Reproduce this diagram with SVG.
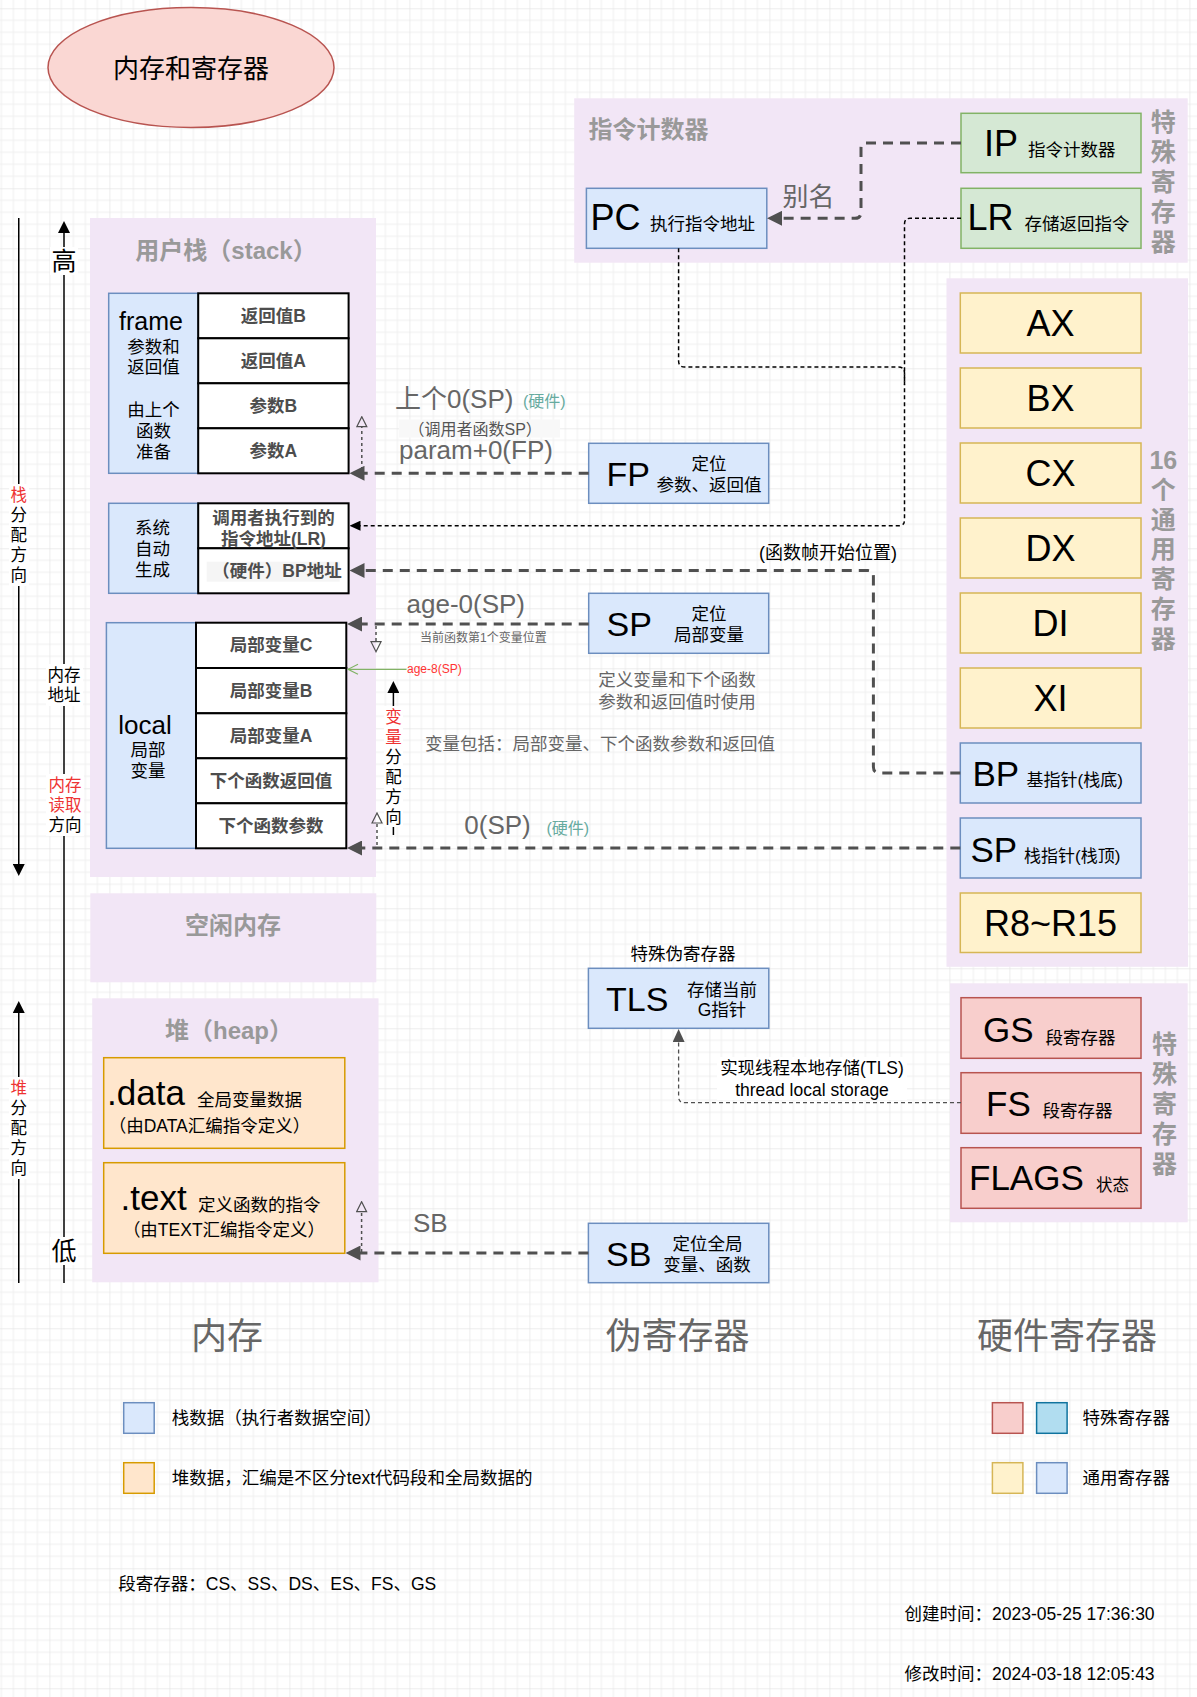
<svg xmlns="http://www.w3.org/2000/svg" width="1197" height="1697" viewBox="0 0 1197 1697">
<defs>
<style>
text{font-family:"Liberation Sans","Noto Sans CJK SC",sans-serif;}
.m{text-anchor:middle;dominant-baseline:central;}
.cb{dominant-baseline:central;}
.panel{fill:#f2e6f6;}
.ttl{font-size:24px;font-weight:bold;fill:#999;}
.vt{font-size:25px;font-weight:bold;fill:#999;text-anchor:middle;dominant-baseline:central;}
.blue{fill:#dae8fc;stroke:#6c8ebf;stroke-width:1.5;}
.green{fill:#d5e8d4;stroke:#82b366;stroke-width:1.5;}
.yellow{fill:#fff2cc;stroke:#d6b656;stroke-width:1.5;}
.orange{fill:#ffe6cc;stroke:#d79b00;stroke-width:1.5;}
.red{fill:#f8cecc;stroke:#b85450;stroke-width:1.5;}
.lblue{fill:#b1ddf0;stroke:#10739e;stroke-width:1.5;}
.cell{fill:#fff;stroke:#000;stroke-width:2;}
.ct{font-size:17.5px;font-weight:bold;fill:#4d4d4d;}
.big{font-size:36px;}
.reg{font-size:36px;text-anchor:middle;dominant-baseline:central;}
.s17{font-size:17.5px;}
.g17{font-size:17.5px;fill:#666;}
.lbl{font-size:26px;fill:#666;}
.hw{font-size:16px;fill:#67ab9f;}
.head{font-size:36px;fill:#666;text-anchor:middle;dominant-baseline:central;}
.ax{font-size:16.5px;text-anchor:middle;dominant-baseline:central;}
.red-t{fill:#e33;}
.thick{fill:none;stroke:#505050;stroke-width:3;stroke-dasharray:10 7;}
.thin{fill:none;stroke:#000;stroke-width:1.5;stroke-dasharray:4 3;}
.thing{fill:none;stroke:#505050;stroke-width:1.3;stroke-dasharray:4 3;}
.small{fill:none;stroke:#505050;stroke-width:1.5;stroke-dasharray:3 3;}
.axis{fill:none;stroke:#000;stroke-width:1.5;}
.wb{fill:#fff;}
</style>
<pattern id="grid" patternUnits="userSpaceOnUse" x="49.4" y="8.3" width="60" height="60">
<path d="M12,0V60M24,0V60M36,0V60M48,0V60M0,12H60M0,24H60M0,36H60M0,48H60" stroke="#efefef" stroke-width="1" fill="none"/>
<path d="M0,0V60M0,0H60" stroke="#dcdcdc" stroke-width="1" fill="none"/>
</pattern>
<marker id="mA" viewBox="0 0 15 15" markerWidth="15" markerHeight="15" refX="3" refY="7.5" orient="auto" markerUnits="userSpaceOnUse"><path d="M0,0L15,7.5L0,15z" fill="#505050"/></marker>
<marker id="mB" viewBox="0 0 11 10" markerWidth="11" markerHeight="10" refX="2" refY="5" orient="auto" markerUnits="userSpaceOnUse"><path d="M0,0L11,5L0,10z" fill="#000"/></marker>
<marker id="mG" viewBox="0 0 13 12" markerWidth="13" markerHeight="12" refX="2" refY="6" orient="auto" markerUnits="userSpaceOnUse"><path d="M0,0L13,6L0,12z" fill="#505050"/></marker>
<marker id="mO" viewBox="-1 -1 12 12" markerWidth="12" markerHeight="12" refX="0" refY="5" orient="auto" markerUnits="userSpaceOnUse"><path d="M0,0L10,5L0,10z" fill="none" stroke="#505050" stroke-width="1.2"/></marker>
<marker id="mV" viewBox="-1 -1 12 12" markerWidth="12" markerHeight="12" refX="10" refY="5" orient="auto" markerUnits="userSpaceOnUse"><path d="M0,0L10,5L0,10" fill="none" stroke="#82b366" stroke-width="1.2"/></marker>
<marker id="mK" viewBox="0 0 12 12" markerWidth="12" markerHeight="12" refX="2" refY="6" orient="auto" markerUnits="userSpaceOnUse"><path d="M0,0L12,6L0,12z" fill="#000"/></marker>
</defs>

<rect width="1197" height="1697" fill="#fff"/>
<rect width="1197" height="1697" fill="url(#grid)"/>

<!-- axes -->
<g id="axes">
<path class="axis" d="M18.75,218V866" marker-end="url(#mK)"/>
<path class="axis" d="M18.75,1283V1011" marker-end="url(#mK)"/>
<path class="axis" d="M64,1283V231" marker-end="url(#mK)"/>
<rect class="wb" x="9" y="484" width="20" height="102"/>
<rect class="wb" x="9" y="1077" width="20" height="102"/>
<rect class="wb" x="50" y="247" width="28" height="28"/>
<rect class="wb" x="46" y="664" width="37" height="42"/>
<rect class="wb" x="46" y="774" width="38" height="62"/>
<rect class="wb" x="50" y="1237" width="28" height="28"/>
<text class="ax"><tspan x="18.75" y="495" class="red-t">栈</tspan><tspan x="18.75" y="515">分</tspan><tspan x="18.75" y="535">配</tspan><tspan x="18.75" y="555">方</tspan><tspan x="18.75" y="575">向</tspan></text>
<text class="ax"><tspan x="18.75" y="1088" class="red-t">堆</tspan><tspan x="18.75" y="1108">分</tspan><tspan x="18.75" y="1128">配</tspan><tspan x="18.75" y="1148">方</tspan><tspan x="18.75" y="1168">向</tspan></text>
<text class="m" x="64" y="261" font-size="25">高</text>
<text class="m" x="64" y="1251" font-size="25">低</text>
<text class="ax"><tspan x="64" y="675">内存</tspan><tspan x="64" y="695">地址</tspan></text>
<text class="ax"><tspan x="65" y="785" class="red-t">内存</tspan><tspan x="65" y="805" class="red-t">读取</tspan><tspan x="65" y="825">方向</tspan></text>
</g>

<g id="n-title">
<ellipse cx="191" cy="67.5" rx="143" ry="60" fill="#fad7d3" stroke="#b85450" stroke-width="1.5"/>
<text class="m" x="191" y="69" font-size="26">内存和寄存器</text>
</g>

<!-- stack panel -->
<g id="n-stack">
<rect class="panel" x="90" y="218" width="286" height="659"/>
<text class="ttl m" x="226" y="250">用户栈（stack）</text>
</g>

<g id="n-frame">
<rect class="blue" x="108.7" y="293.3" width="89.5" height="180"/>
<text class="m" x="151" y="321" font-size="25">frame</text>
<text class="m s17"><tspan x="153.5" y="347">参数和</tspan><tspan x="153.5" y="367">返回值</tspan><tspan x="153.5" y="409.5">由上个</tspan><tspan x="153.5" y="430.5">函数</tspan><tspan x="153.5" y="451.5">准备</tspan></text>
<rect class="cell" x="198.2" y="293.3" width="150.4" height="45"/>
<rect class="cell" x="198.2" y="338.3" width="150.4" height="45"/>
<rect class="cell" x="198.2" y="383.3" width="150.4" height="45"/>
<rect class="cell" x="198.2" y="428.3" width="150.4" height="45"/>
<text class="m ct" x="273.4" y="315.8">返回值B</text>
<text class="m ct" x="273.4" y="360.8">返回值A</text>
<text class="m ct" x="273.4" y="405.8">参数B</text>
<text class="m ct" x="273.4" y="450.8">参数A</text>
</g>

<g id="n-system">
<rect class="blue" x="108.7" y="503.3" width="89.5" height="90"/>
<text class="m s17"><tspan x="152.5" y="528">系统</tspan><tspan x="152.5" y="549">自动</tspan><tspan x="152.5" y="570">生成</tspan></text>
<rect class="cell" x="198.2" y="503.3" width="150.4" height="45"/>
<rect class="cell" x="198.2" y="548.3" width="150.4" height="45"/>
<rect x="206.7" y="561.7" width="133" height="20" fill="#f5f5f5"/>
<text class="m ct"><tspan x="273.4" y="518.3">调用者执行到的</tspan><tspan x="273.4" y="538.8">指令地址(LR)</tspan></text>
<text class="m ct" x="277" y="571">（硬件）BP地址</text>
</g>

<g id="n-local">
<rect class="blue" x="106.4" y="622.7" width="89.6" height="225.6"/>
<text class="m" x="145" y="725" font-size="26">local</text>
<text class="m s17"><tspan x="148" y="750">局部</tspan><tspan x="148" y="770.5">变量</tspan></text>
<rect class="cell" x="196" y="622.7" width="150.3" height="45.3"/>
<rect class="cell" x="196" y="668" width="150.3" height="45.3"/>
<rect class="cell" x="196" y="713.3" width="150.3" height="45"/>
<rect class="cell" x="196" y="758.3" width="150.3" height="45"/>
<rect class="cell" x="196" y="803.3" width="150.3" height="45"/>
<text class="m ct" x="271" y="645.3">局部变量C</text>
<text class="m ct" x="271" y="690.6">局部变量B</text>
<text class="m ct" x="271" y="735.8">局部变量A</text>
<text class="m ct" x="271" y="780.8">下个函数返回值</text>
<text class="m ct" x="271" y="825.8">下个函数参数</text>
</g>

<g id="n-free">
<rect class="panel" x="90.3" y="893.3" width="286" height="89"/>
<text class="ttl m" x="233" y="925">空闲内存</text>
</g>

<g id="n-heap">
<rect class="panel" x="92.2" y="998.3" width="286.3" height="284"/>
<text class="ttl m" x="229" y="1030">堆（heap）</text>
</g>
<g id="n-data">
<rect class="orange" x="103.7" y="1057.7" width="241.1" height="90.6"/>
<text x="107" y="1105" font-size="35">.data</text>
<text x="197" y="1106" class="s17">全局变量数据</text>
<text class="m s17" x="209.5" y="1125.5">（由DATA汇编指令定义）</text>
</g>
<g id="n-text">
<rect class="orange" x="103.7" y="1162.7" width="241.1" height="90.6"/>
<text x="120.5" y="1210" font-size="35">.text</text>
<text x="198" y="1211" class="s17">定义函数的指令</text>
<text class="m s17" x="224" y="1229.5">（由TEXT汇编指令定义）</text>
</g>

<!-- instruction counter panel -->
<g id="n-pc-panel">
<rect class="panel" x="574.2" y="98.3" width="613.5" height="164.4"/>
<text class="ttl cb" x="588.4" y="129.3" font-size="25">指令计数器</text>
<text class="vt"><tspan x="1163.3" y="122.3">特</tspan><tspan x="1163.3" y="152.3">殊</tspan><tspan x="1163.3" y="182.3">寄</tspan><tspan x="1163.3" y="212.3">存</tspan><tspan x="1163.3" y="242.3">器</tspan></text>
</g>
<g id="n-pc">
<rect class="blue" x="586.4" y="188.3" width="180.4" height="60"/>
<text x="590.5" y="230" class="big">PC</text>
<text x="650" y="230" class="s17">执行指令地址</text>
</g>
<g id="n-ip">
<rect class="green" x="961" y="113.3" width="180" height="59.4"/>
<text x="984" y="155.5" class="big">IP</text>
<text x="1028" y="155.5" class="s17">指令计数器</text>
</g>
<g id="n-lr">
<rect class="green" x="961" y="188.3" width="180" height="60"/>
<text x="967.5" y="230" class="big">LR</text>
<text x="1024.4" y="230" class="s17">存储返回指令</text>
</g>

<!-- pseudo registers -->
<g id="n-fp">
<rect class="blue" x="588.7" y="443.3" width="180" height="60"/>
<text x="606.5" y="486" font-size="34">FP</text>
<text class="m s17" x="709" y="464">定位</text>
<text class="m s17" x="709" y="485">参数、返回值</text>
</g>
<g id="n-sp">
<rect class="blue" x="588.7" y="593.3" width="180" height="60"/>
<text x="606.5" y="636" font-size="34">SP</text>
<text class="m s17" x="709" y="613.5">定位</text>
<text class="m s17" x="709" y="635">局部变量</text>
</g>
<g id="n-tls">
<text class="m s17" x="683" y="954">特殊伪寄存器</text>
<rect class="blue" x="588.4" y="968.3" width="180.4" height="60"/>
<text x="606" y="1010.5" font-size="34">TLS</text>
<text class="m s17" x="722" y="990">存储当前</text>
<text class="m s17" x="722" y="1009.5">G指针</text>
</g>
<g id="n-sb">
<rect class="blue" x="588.4" y="1223.3" width="180.4" height="59.4"/>
<text x="606" y="1265.5" font-size="34">SB</text>
<text class="m s17" x="707.5" y="1244">定位全局</text>
<text class="m s17" x="707" y="1264.5">变量、函数</text>
</g>

<!-- general registers -->
<g id="n-gp-panel">
<rect class="panel" x="946.5" y="278.3" width="241.5" height="688.5"/>
<text class="vt"><tspan x="1163.3" y="459.5">16</tspan><tspan x="1163.3" y="489.5">个</tspan><tspan x="1163.3" y="519.5">通</tspan><tspan x="1163.3" y="549">用</tspan><tspan x="1163.3" y="579">寄</tspan><tspan x="1163.3" y="609">存</tspan><tspan x="1163.3" y="639">器</tspan></text>
</g>
<g id="n-ax"><rect class="yellow" x="960.3" y="293" width="180.7" height="60"/><text class="reg" x="1050.6" y="323">AX</text></g>
<g id="n-bx"><rect class="yellow" x="960.3" y="368" width="180.7" height="60"/><text class="reg" x="1050.6" y="398">BX</text></g>
<g id="n-cx"><rect class="yellow" x="960.3" y="443" width="180.7" height="60"/><text class="reg" x="1050.6" y="473">CX</text></g>
<g id="n-dx"><rect class="yellow" x="960.3" y="518" width="180.7" height="60"/><text class="reg" x="1050.6" y="548">DX</text></g>
<g id="n-di"><rect class="yellow" x="960.3" y="593" width="180.7" height="60"/><text class="reg" x="1050.6" y="623">DI</text></g>
<g id="n-xi"><rect class="yellow" x="960.3" y="668" width="180.7" height="60"/><text class="reg" x="1050.6" y="698">XI</text></g>
<g id="n-bp"><rect class="blue" x="960.3" y="743" width="180.7" height="60"/><text x="972.5" y="786" font-size="35">BP</text><text x="1026.5" y="786" font-size="17">基指针(栈底)</text></g>
<g id="n-hsp"><rect class="blue" x="960.3" y="818" width="180.7" height="60"/><text x="970.5" y="861.5" font-size="35">SP</text><text x="1024" y="861.5" font-size="17">栈指针(栈顶)</text></g>
<g id="n-r8"><rect class="yellow" x="960.3" y="893" width="180.7" height="59.5"/><text class="reg" x="1050.6" y="923">R8~R15</text></g>

<!-- special registers -->
<g id="n-special-panel">
<rect class="panel" x="950" y="983.3" width="237.7" height="239"/>
<text class="vt"><tspan x="1164.5" y="1043.5">特</tspan><tspan x="1164.5" y="1073.5">殊</tspan><tspan x="1164.5" y="1103.5">寄</tspan><tspan x="1164.5" y="1133.5">存</tspan><tspan x="1164.5" y="1163.5">器</tspan></text>
</g>
<g id="n-gs"><rect class="red" x="961" y="997.7" width="180" height="60.6"/><text x="983" y="1042" font-size="35">GS</text><text x="1045.5" y="1043.5" class="s17">段寄存器</text></g>
<g id="n-fs"><rect class="red" x="961" y="1072.7" width="180" height="60.6"/><text x="986" y="1115.5" font-size="35">FS</text><text x="1042.5" y="1117" class="s17">段寄存器</text></g>
<g id="n-flags"><rect class="red" x="961" y="1147.7" width="180" height="60.6"/><text x="969" y="1190" font-size="35">FLAGS</text><text x="1096" y="1191" font-size="16.5">状态</text></g>

<!-- connectors -->
<g id="connectors">
<path class="thick" d="M961,143H866Q861,143 861,148V212Q861,218.3 855,218.3H779" marker-end="url(#mA)"/>
<path class="thin" d="M961,218.3H910Q904.5,218.3 904.5,224V520Q904.5,525.7 899,525.7H358.5" marker-end="url(#mB)"/>
<path class="thin" d="M678.6,248.3V361Q678.6,367 684.6,367H898.5Q904.5,367 904.5,373V385"/>
<path class="thick" d="M588.7,473.3H361.5" marker-end="url(#mA)"/>
<path class="thick" d="M960.3,773H879.4Q873.4,773 873.4,767V576.5Q873.4,570.5 867.4,570.5H361.5" marker-end="url(#mA)"/>
<path class="thick" d="M588.7,624H359" marker-end="url(#mA)"/>
<path class="thick" d="M960.3,848H359" marker-end="url(#mA)"/>
<path class="thick" d="M588.4,1253H357.5" marker-end="url(#mA)"/>
<path class="thing" d="M961,1102.7H684.6Q678.6,1102.7 678.6,1096.7V1040" marker-end="url(#mG)"/>
<path class="small" d="M361.8,470V426.7" marker-end="url(#mO)"/>
<path class="small" d="M376,626V641.7" marker-end="url(#mO)"/>
<path class="small" d="M377,845V823" marker-end="url(#mO)"/>
<path class="small" d="M361.6,1252V1211.7" marker-end="url(#mO)"/>
<path d="M406.5,669.3H348" fill="none" stroke="#82b366" stroke-width="1.3" marker-end="url(#mV)"/>
<path class="axis" d="M393.4,835V691" marker-end="url(#mK)"/>
<rect class="wb" x="384" y="706" width="19" height="121"/>
<text class="ax"><tspan x="393.4" y="717" class="red-t">变</tspan><tspan x="393.4" y="737" class="red-t">量</tspan><tspan x="393.4" y="757">分</tspan><tspan x="393.4" y="777">配</tspan><tspan x="393.4" y="797">方</tspan><tspan x="393.4" y="817">向</tspan></text>
<text class="lbl cb" x="782.5" y="197">别名</text>
<text class="lbl cb" x="395" y="398.5">上个0(SP)</text>
<text class="hw cb" x="523" y="401">(硬件)</text>
<rect x="399" y="419.5" width="161" height="18" fill="#f8f8f8"/>
<text class="cb" x="408.5" y="429.3" font-size="16" style="fill:#555">（调用者函数SP）</text>
<text class="lbl cb" x="399" y="450">param+0(FP)</text>
<text class="cb" x="759" y="552.7" font-size="18">(函数帧开始位置)</text>
<text class="lbl cb" x="406.5" y="603.5">age-0(SP)</text>
<text class="cb" x="420" y="637.5" font-size="12" style="fill:#666">当前函数第1个变量位置</text>
<text class="cb" x="407" y="669.3" font-size="12" style="fill:#ff3333">age-8(SP)</text>
<text class="lbl cb" x="464.3" y="825">0(SP)</text>
<text class="hw cb" x="546.5" y="828">(硬件)</text>
<text class="lbl cb" x="413" y="1223">SB</text>
<rect class="wb" x="717" y="1057" width="190" height="43"/>
<text class="m s17"><tspan x="812" y="1068.3">实现线程本地存储(TLS)</tspan><tspan x="812" y="1089.5">thread local storage</tspan></text>
</g>

<!-- notes -->
<g id="notes">
<text class="m g17"><tspan x="677" y="680">定义变量和下个函数</tspan><tspan x="677" y="701.7">参数和返回值时使用</tspan></text>
<text class="cb g17" x="425" y="744">变量包括：局部变量、下个函数参数和返回值</text>
<text class="head" x="227" y="1336">内存</text>
<text class="head" x="677.5" y="1336">伪寄存器</text>
<text class="head" x="1067" y="1336">硬件寄存器</text>
</g>

<g id="legend">
<rect class="blue" x="123.7" y="1402.7" width="30.5" height="30.6"/>
<text class="cb s17" x="171.8" y="1418.3">栈数据（执行者数据空间）</text>
<rect class="orange" x="123.7" y="1462.7" width="30.5" height="30.6"/>
<text class="cb s17" x="171.8" y="1478.3">堆数据，汇编是不区分text代码段和全局数据的</text>
<rect class="red" x="992.4" y="1402.7" width="30.5" height="30.6"/>
<rect class="lblue" x="1036.6" y="1402.7" width="30.5" height="30.6"/>
<text class="cb s17" x="1082.4" y="1418.3">特殊寄存器</text>
<rect class="yellow" x="992.4" y="1462.7" width="30.5" height="30.6"/>
<rect class="blue" x="1036.6" y="1462.7" width="30.5" height="30.6"/>
<text class="cb s17" x="1082.4" y="1478.3">通用寄存器</text>
<text class="cb s17" x="118.3" y="1584">段寄存器：CS、SS、DS、ES、FS、GS</text>
<text class="cb s17" x="904.6" y="1614">创建时间：2023-05-25 17:36:30</text>
<text class="cb s17" x="904.6" y="1674">修改时间：2024-03-18 12:05:43</text>
</g>
</svg>
